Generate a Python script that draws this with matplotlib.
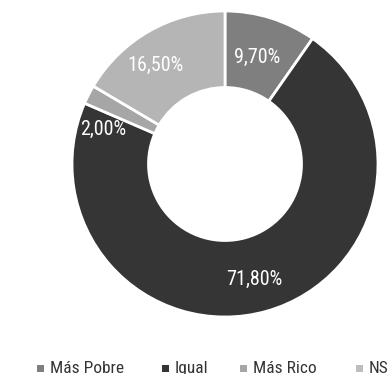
import numpy as np
import matplotlib
matplotlib.use("Agg")
import matplotlib.pyplot as plt
from matplotlib import font_manager
from matplotlib.patches import Rectangle

categories = ["Más Pobre", "Igual", "Más Rico", "NS/NC"]
values = [9.7, 71.8, 2.0, 16.5]
colors = ["#7f7f7f", "#353535", "#a6a6a6", "#b5b5b5"]
legend_colors = ["#7f7f7f", "#353535", "#a6a6a6", "#bdbdbd"]

available = {f.name for f in font_manager.fontManager.ttflist}
preferred = ["Roboto Condensed", "Archivo Narrow", "Liberation Sans Narrow"]
family = next((n for n in preferred if n in available), "Roboto")
plt.rcParams["font.family"] = [family, "DejaVu Sans"]

W, H = 388, 374
fig = plt.figure(figsize=(W / 100, H / 100), dpi=100)
fig.patch.set_facecolor("white")

cx, cy, R = 225, 164, 153
ax = fig.add_axes([(cx - R) / W, (H - cy - R) / H, 2 * R / W, 2 * R / H])
wedges, _ = ax.pie(values, colors=colors, startangle=90, counterclock=False,
                   radius=1.0, wedgeprops=dict(width=0.5, edgecolor="white", linewidth=2))
ax.set_xlim(-1, 1)
ax.set_ylim(-1, 1)
ax.set_aspect("equal")
ax.axis("off")

# value labels around the ring
cum = np.cumsum([0] + values[:-1])
label_r = [0.73, 0.78, 0.83, 0.79]
label_shift = [0.8, -1.8, 11.4, 5.6]  # degrees, nudge along the ring
for v, c0, r, sh in zip(values, cum, label_r, label_shift):
    mid = 90 - 360 * (c0 + v / 2) / 100 + sh
    t = np.deg2rad(mid)
    ax.text(r * np.cos(t), r * np.sin(t), f"{v:.2f}%".replace(".", ","),
            ha="center", va="center", color="white", fontsize=14.5)

# legend row along the bottom edge
marker_x = [37, 162, 240, 356]
for name, col, mx in zip(categories, legend_colors, marker_x):
    fig.patches.append(Rectangle((mx / W, (H - 372) / H), 7 / W, 7 / H,
                                 transform=fig.transFigure, facecolor=col,
                                 edgecolor="none"))
    fig.text((mx + 13) / W, (H - 373) / H, name, ha="left", va="baseline",
             fontsize=12.5, color="#333333")

fig.savefig("out.png", dpi=100, facecolor="white")
